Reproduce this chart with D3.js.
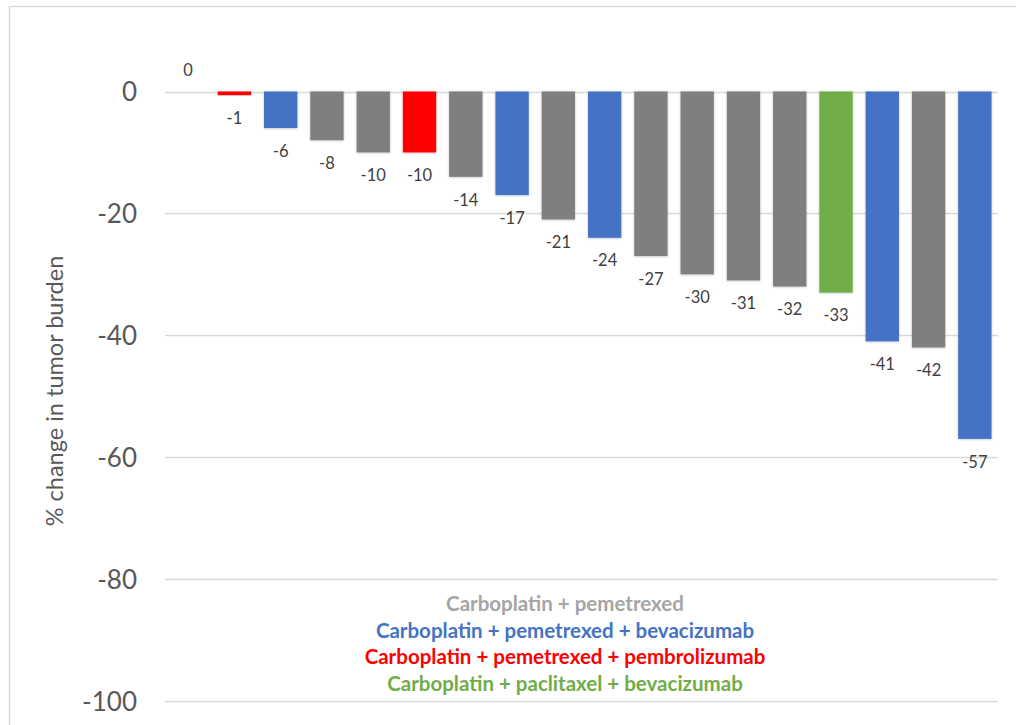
<!DOCTYPE html>
<html>
<head>
<meta charset="utf-8">
<script src="https://cdn.jsdelivr.net/npm/d3@7"></script>
<style>
  html, body { margin: 0; padding: 0; background: #ffffff; }
  svg { display: block; }
</style>
</head>
<body>
<svg id="chart" width="1016" height="725"></svg>
<script>
// ---- data ----
const patients = ["1","2","3","4","5","6","7","8","9","10","11","12","13","14","15","16","17","18"];
const changes = [0, -0.6, -6, -8, -10, -10, -14, -17, -21, -24, -27, -30, -31, -32, -33, -41, -42, -57];
const groups = ["CP","CPPem","CPB","CP","CP","CPPem","CP","CPB","CP","CPB","CP","CP","CP","CP","CTB","CPB","CP","CPB"];
const groupKeys = ["CP","CPB","CPPem","CTB"];
const groupLabels = [
  "Carboplatin + pemetrexed",
  "Carboplatin + pemetrexed + bevacizumab",
  "Carboplatin + pemetrexed + pembrolizumab",
  "Carboplatin + paclitaxel + bevacizumab"
];
const yTicks = [0, -20, -40, -60, -80, -100];
const yTitle = "% change in tumor burden";

// ---- styles ----
const barColors = {CP: "#7f7f7f", CPB: "#4472c4", CPPem: "#ff0000", CTB: "#70ad47"};
const legendColors = {CP: "#a5a5a5", CPB: "#4472c4", CPPem: "#ff0000", CTB: "#70ad47"};
const FONT = "Lato, 'Open Sans', 'Liberation Sans', sans-serif";

const svg = d3.select("#chart");

// chart card border
svg.append("rect")
  .attr("x", 9.5).attr("y", 6.5)
  .attr("width", 1030).attr("height", 740)
  .attr("fill", "#ffffff")
  .attr("stroke", "#d9d9d9").attr("stroke-width", 1.5);

const defs = svg.append("defs");
const f = defs.append("filter").attr("id", "shadow")
  .attr("x", "-20%").attr("y", "-5%").attr("width", "140%").attr("height", "115%");
f.append("feDropShadow").attr("dx", 0).attr("dy", 0.5)
  .attr("stdDeviation", 1.2).attr("flood-color", "#000").attr("flood-opacity", 0.25);

const x = d3.scaleBand()
  .domain(patients)
  .range([165, 998])
  .paddingInner(0.28)
  .paddingOuter(0.14);

const y = d3.scaleLinear()
  .domain([-100, 0])
  .range([701, 91.5]);

// gridlines
svg.append("g")
  .selectAll("line")
  .data(yTicks)
  .join("line")
  .attr("x1", 165).attr("x2", 998)
  .attr("y1", d => Math.round(y(d)) + 0.5)
  .attr("y2", d => Math.round(y(d)) + 0.5)
  .attr("stroke", "#d9d9d9")
  .attr("stroke-width", 1.5);

// y axis labels
const yAxis = d3.axisLeft(y).tickValues(yTicks).tickSize(0).tickPadding(0)
  .tickFormat(d => String(d));
const yg = svg.append("g")
  .attr("transform", "translate(137,0)")
  .call(yAxis);
yg.select(".domain").remove();
yg.selectAll("text")
  .attr("font-family", FONT)
  .attr("font-size", 26)
  .attr("fill", "#595959")
  .attr("dy", "0.36em");

// y title
svg.append("text")
  .attr("transform", "translate(57,391) rotate(-90)")
  .attr("text-anchor", "middle")
  .attr("dominant-baseline", "middle")
  .attr("font-family", FONT)
  .attr("font-size", 23.5)
  .attr("fill", "#595959")
  .text(yTitle);

// bars
const rows = patients.map((p, i) => ({p, v: changes[i], g: groups[i]}));
svg.append("g")
  .selectAll("rect")
  .data(rows)
  .join("rect")
  .attr("x", d => x(d.p))
  .attr("width", x.bandwidth())
  .attr("y", d => y(Math.max(0, d.v)))
  .attr("height", d => Math.abs(y(d.v) - y(0)))
  .attr("fill", d => barColors[d.g])
  .attr("filter", "url(#shadow)");

// data labels
svg.append("g")
  .selectAll("text")
  .data(rows)
  .join("text")
  .attr("x", d => x(d.p) + x.bandwidth() / 2)
  .attr("y", d => d.v >= 0 ? y(d.v) - 20 : y(d.v) + 24.5)
  .attr("text-anchor", "middle")
  .attr("dominant-baseline", "middle")
  .attr("font-family", FONT)
  .attr("font-size", 16.5)
  .attr("fill", "#404040")
  .text(d => String(Math.round(d.v)));

// legend (text only)
svg.append("g")
  .selectAll("text")
  .data(groupKeys)
  .join("text")
  .attr("x", 565)
  .attr("y", (d, i) => 605.5 + i * 26.8)
  .attr("text-anchor", "middle")
  .attr("dominant-baseline", "middle")
  .attr("font-family", FONT)
  .attr("font-weight", "bold")
  .attr("font-size", 20.5)
  .attr("fill", d => legendColors[d])
  .text((d, i) => groupLabels[i]);
</script>
</body>
</html>
